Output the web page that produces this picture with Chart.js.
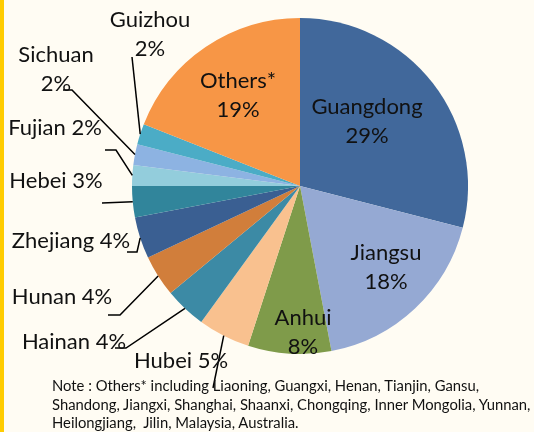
<!DOCTYPE html>
<html>
<head>
<meta charset="utf-8">
<script src="https://cdn.jsdelivr.net/npm/chart.js@4/dist/chart.umd.min.js"></script>
<style>
  html, body { margin: 0; padding: 0; background: #fffcf3; }
  #wrap { position: relative; width: 534px; height: 432px; border-left: 4px solid #ffcc00; box-sizing: border-box; }
  canvas { position: absolute; left: -4px; top: 0; }
  #note { position: absolute; left: 48px; top: 376px; font-family: Lato, sans-serif; font-size: 14.8px; line-height: 18.5px; color: #111; white-space: nowrap; }
</style>
</head>
<body>
<div id="wrap">
  <canvas id="pie" width="534" height="432"></canvas>
  <div id="note">Note : Others* including Liaoning, Guangxi, Henan, Tianjin, Gansu,<br>Shandong, Jiangxi, Shanghai, Shaanxi, Chongqing, Inner Mongolia, Yunnan,<br>Heilongjiang,&nbsp; Jilin, Malaysia, Australia.</div>
</div>
<script>
var provinces = ['Guangdong','Jiangsu','Anhui','Hubei','Hainan','Hunan','Zhejiang','Hebei','Fujian','Sichuan','Guizhou','Others*'];
var shares = [29, 18, 8, 5, 4, 4, 4, 3, 2, 2, 2, 19];
var sliceColors = ['#41689b','#95a9d3','#7f9b4a','#f9c18f','#3c8aa5','#d17e3b','#3a5f92','#31859b','#93cddc','#8db3e2','#4bacc6','#f79646'];

// label placement: inside labels (two lines) or outside labels with leader lines
var labelPos = {
    'Guangdong': {inside: true, x: 367, y: 107},
    'Jiangsu':   {inside: true, x: 386, y: 253},
    'Anhui':     {inside: true, x: 303, y: 318},
    'Others*':   {inside: true, x: 238, y: 81},
    'Hubei':     {text: 'Hubei 5%',    x: 181, y: 361, line: [[213, 388]]},
    'Hainan':    {text: 'Hainan 4%',   x: 74,  y: 342, line: [[115, 348], [126, 348]]},
    'Hunan':     {text: 'Hunan 4%',    x: 62,  y: 297, line: [[108, 315], [120, 315]]},
    'Zhejiang':  {text: 'Zhejiang 4%', x: 71,  y: 241, line: [[127, 252], [137, 252]]},
    'Hebei':     {text: 'Hebei 3%',    x: 56,  y: 181, line: [[102, 203]]},
    'Fujian':    {text: 'Fujian 2%',   x: 55,  y: 128, line: [[105, 150], [116, 150]]},
    'Sichuan':   {two: true, x: 56,  y: 55, line: [[63, 90], [72, 90]]},
    'Guizhou':   {two: true, x: 150, y: 20, line: [[132, 57]]}
};

var pieLabels = {
    id: 'pieLabels',
    afterDatasetsDraw: function(chart) {
        var ctx = chart.ctx;
        var arcs = chart.getDatasetMeta(0).data;
        ctx.save();
        ctx.font = '22px Lato, sans-serif';
        ctx.fillStyle = '#111';
        ctx.textAlign = 'center';
        ctx.textBaseline = 'middle';
        arcs.forEach(function(arc, i) {
            var name = provinces[i];
            var p = labelPos[name];
            var pct = shares[i] + '%';
            if (p.line) {
                var mid = (arc.startAngle + arc.endAngle) / 2;
                var ex = arc.x + arc.outerRadius * Math.cos(mid);
                var ey = arc.y + arc.outerRadius * Math.sin(mid);
                ctx.strokeStyle = '#000';
                ctx.lineWidth = 1.5;
                ctx.beginPath();
                ctx.moveTo(p.line[0][0], p.line[0][1]);
                for (var k = 1; k < p.line.length; k++) ctx.lineTo(p.line[k][0], p.line[k][1]);
                ctx.lineTo(ex, ey);
                ctx.stroke();
            }
            if (p.inside || p.two) {
                ctx.fillText(name, p.x, p.y);
                ctx.fillText(pct, p.x, p.y + 29);
            } else {
                ctx.fillText(p.text, p.x, p.y);
            }
        });
        ctx.restore();
    }
};

var ctx = document.getElementById('pie').getContext('2d');
var myChart = new Chart(ctx, {
    type: 'pie',
    data: {
        labels: provinces,
        datasets: [{
            data: shares,
            backgroundColor: sliceColors,
            borderWidth: 0
        }]
    },
    options: {
        responsive: false,
        animation: false,
        layout: {
            padding: {left: 132, right: 66, top: 18, bottom: 78}
        },
        plugins: {
            legend: {display: false},
            tooltip: {enabled: false}
        }
    },
    plugins: [pieLabels]
});
</script>
</body>
</html>
